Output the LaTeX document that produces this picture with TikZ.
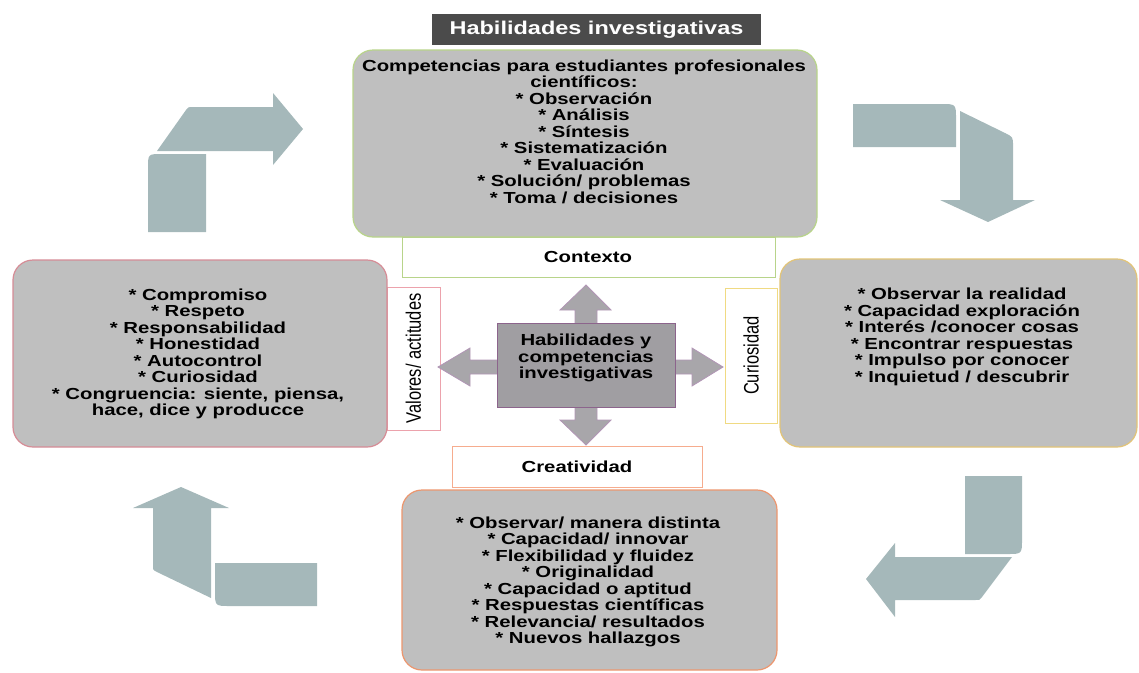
\documentclass[tikz,border=0pt]{standalone}
\usepackage{fontspec}
\newfontfamily\bodyfont[FakeStretch=1.27]{Liberation Sans Bold}
\newfontfamily\rotfont{Liberation Sans}
\definecolor{boxgray}{RGB}{191,191,191}
\definecolor{greenb}{RGB}{184,212,138}
\definecolor{pinkb}{RGB}{214,140,150}
\definecolor{pinklb}{RGB}{236,162,172}
\definecolor{goldb}{RGB}{226,196,120}
\definecolor{goldlb}{RGB}{240,218,130}
\definecolor{orangeb}{RGB}{236,150,110}
\definecolor{orangelb}{RGB}{246,172,142}
\definecolor{centerfill}{RGB}{160,158,162}
\definecolor{centeredge}{RGB}{140,100,140}
\definecolor{midfill}{RGB}{168,166,170}
\definecolor{midedge}{RGB}{178,150,182}
\definecolor{titlefill}{RGB}{75,75,75}
\definecolor{arrowteal}{RGB}{165,184,186}
\tikzset{
  bigbox/.style={draw, rounded corners=20pt, fill=boxgray, line width=1.2pt},
  lblbox/.style={draw, fill=white, line width=1pt},
  txt/.style={align=center, inner sep=0pt, font=\bodyfont\fontsize{16}{16.5}\selectfont},
  rottxt/.style={rotate=90, inner sep=0pt, font=\rotfont\fontsize{16.5}{18}\selectfont},
  bigarrow/.style={fill=arrowteal},
  midarrow/.style={fill=midfill, draw=midedge, line width=0.8pt},
}
\begin{document}
\begin{tikzpicture}[x=1pt,y=-1pt]
\useasboundingbox (0,0) rectangle (1139,672);

% title
\node[fill=titlefill, minimum width=329pt, minimum height=31pt, inner sep=0pt] (title) at (596.5,29.5) {};
\node[txt, text=white, font=\bodyfont\fontsize{18.5}{19}\selectfont] (titletxt) at (596.5,30) {Habilidades investigativas};

% label boxes
\node[lblbox, draw=greenb, minimum width=373pt, minimum height=40pt] (ctxbox) at (588.5,257) {};
\node[txt] (ctxtxt) at (588,257) {Contexto};
\node[lblbox, draw=pinklb, minimum width=53pt, minimum height=143pt] (valbox) at (413.5,358.5) {};
\node[rottxt] (valtxt) at (413.5,358.5) {\scalebox{1}[1.27]{Valores/ actitudes}};
\node[lblbox, draw=goldlb, minimum width=52pt, minimum height=135pt] (curbox) at (751,355.5) {};
\node[rottxt] (curtxt) at (751,355.5) {\scalebox{1}[1.27]{Curiosidad}};
\node[lblbox, draw=orangelb, minimum width=250pt, minimum height=41pt] (crebox) at (577,466.5) {};
\node[txt] (cretxt) at (577,467) {Creatividad};

% big boxes
\node[bigbox, draw=greenb, minimum width=464pt, minimum height=187pt] (top) at (585,143.5) {};
\node[txt] (toptxt) at (584,131.5) {Competencias para estudiantes profesionales\\ científicos:\\ * Observación\\ * Análisis\\ * Síntesis\\ * Sistematización\\ * Evaluación\\ * Solución/ problemas\\ * Toma / decisiones};

\node[bigbox, draw=pinkb, minimum width=374pt, minimum height=187pt] (left) at (200,353.5) {};
\node[txt] (lefttxt) at (198,354) {* Compromiso\\ * Respeto\\ * Responsabilidad\\ * Honestidad\\ * Autocontrol\\ * Curiosidad\\ * Congruencia: siente, piensa,\\ hace, dice y producce};

\node[bigbox, draw=goldb, minimum width=357pt, minimum height=188pt] (right) at (958.5,353) {};
\node[txt] (righttxt) at (962,337) {* Observar la realidad\\ * Capacidad exploración\\ * Interés /conocer cosas\\ * Encontrar respuestas\\ * Impulso por conocer\\ * Inquietud / descubrir};

\node[bigbox, draw=orangeb, minimum width=375pt, minimum height=180pt] (bottom) at (589.5,580) {};
\node[txt] (bottomtxt) at (588,582) {* Observar/ manera distinta\\ * Capacidad/ innovar\\ * Flexibilidad y fluidez\\ * Originalidad\\ * Capacidad o aptitud\\ * Respuestas científicas\\ * Relevancia/ resultados\\ * Nuevos hallazgos};

% center arrows
\draw[midarrow] (575,325) -- (575,310) -- (560,310) -- (586,285) -- (611,310) -- (597,310) -- (597,325) -- cycle;
\draw[midarrow] (575,405) -- (575,420) -- (560,420) -- (586,445) -- (611,420) -- (597,420) -- (597,405) -- cycle;
\draw[midarrow] (499,360) -- (470,360) -- (470,348) -- (438,367) -- (470,386) -- (470,374) -- (499,374) -- cycle;
\draw[midarrow] (673,360) -- (692,360) -- (692,348) -- (723,367) -- (692,386) -- (692,374) -- (673,374) -- cycle;

% center box
\node[draw=centeredge, fill=centerfill, line width=1pt, minimum width=178pt, minimum height=84pt] (center) at (586,365) {};
\node[txt] (centertxt) at (586,358) {Habilidades y\\ competencias\\ investigativas};

% big bent arrows
% top-left
\fill[bigarrow] (148,232) -- (148,168) .. controls (148,154) .. (162,154) -- (206,154) -- (206,232) -- cycle;
\fill[bigarrow] (157,151) -- (186,110) .. controls (188,107) .. (194,107) -- (273,107) -- (273,93) -- (303,129) -- (273,165) -- (273,151) -- cycle;
% top-right
\fill[bigarrow] (853,104) -- (941,104) .. controls (956,104) .. (956,119) -- (956,147) -- (853,147) -- cycle;
\fill[bigarrow] (960,111) -- (1005,133) .. controls (1013,137) .. (1013,146) -- (1013,200) -- (1035,200) -- (988,222) -- (940,200) -- (960,200) -- cycle;
% bottom-right
\fill[bigarrow] (965,476) -- (1022,476) -- (1022,539) .. controls (1022,554) .. (1007,554) -- (965,554) -- cycle;
\fill[bigarrow] (1012,557) -- (982,597) .. controls (980,600) .. (975,600) -- (895,600) -- (895,617) -- (866,579) -- (895,543) -- (895,557) -- cycle;
% bottom-left
\fill[bigarrow] (215,563) -- (317,563) -- (317,606) -- (230,606) .. controls (215,606) .. (215,591) -- cycle;
\fill[bigarrow] (211,598) -- (211,508) -- (229,508) -- (181,487) -- (133,508) -- (153,508) -- (153,566) .. controls (153,570) .. (157,572) -- cycle;
\end{tikzpicture}
\end{document}
